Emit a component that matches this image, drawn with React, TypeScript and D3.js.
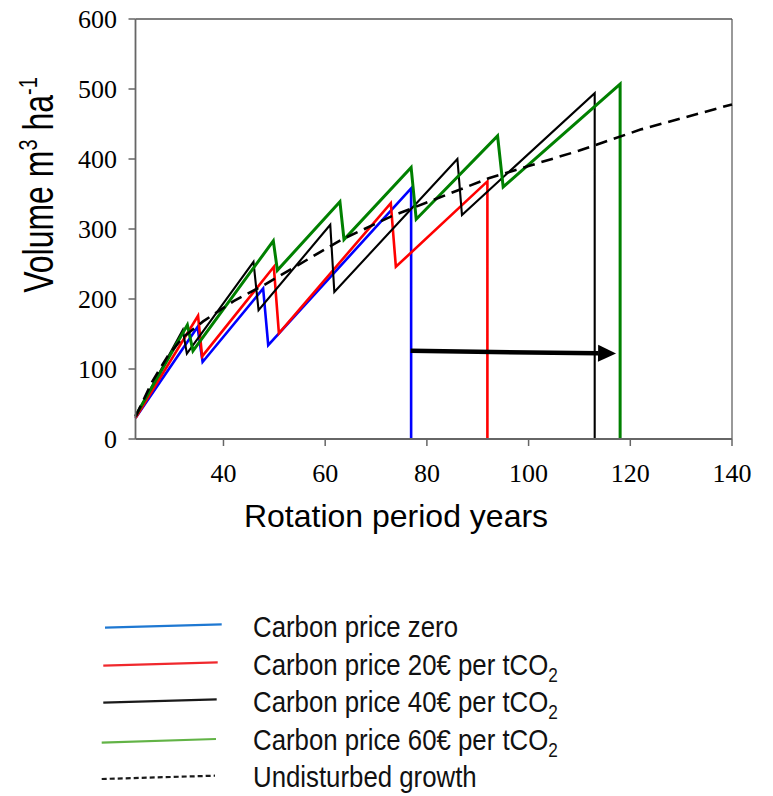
import React from "react";
import * as d3 from "d3";

// ---- data: [rotation year, volume m3/ha] ----
const seriesZero: [number, number][] = [
  [22.7, 30], [34.9, 160], [35.9, 110], [47.8, 215], [48.8, 134], [76.9, 358], [76.9, 0],
];
const series20: [number, number][] = [
  [22.7, 30], [35.0, 176], [35.8, 118], [49.9, 246], [50.9, 151], [72.9, 337], [73.9, 246], [91.9, 368], [91.9, 0],
];
const series40: [number, number][] = [
  [22.7, 32], [32.0, 156], [32.8, 122], [45.9, 253], [46.9, 184], [61.0, 306], [61.8, 210], [86.0, 400], [86.9, 320], [113.0, 494], [113.0, 0],
];
const series60: [number, number][] = [
  [22.7, 33], [32.9, 163], [34.0, 126], [49.8, 283], [50.6, 241], [62.9, 339], [63.7, 285], [76.9, 388], [77.9, 314], [93.9, 433], [95.0, 360], [118.0, 507], [118.0, 0],
];
const undisturbed: [number, number][] = [
  [22.7, 32], [26, 82], [29, 118], [32, 145], [36, 168], [42, 197], [48, 220], [63, 284], [73, 318], [92, 372], [100, 390], [110, 412], [122, 442], [140, 478],
];
const arrowFrom: [number, number] = [76.8, 126];
const arrowTo: [number, number] = [117.2, 122];

const xTicks = [40, 60, 80, 100, 120, 140];
const yTicks = [0, 100, 200, 300, 400, 500, 600];

const legendLabels = [
  { text: "Carbon price zero", sub: "" },
  { text: "Carbon price 20€ per tCO", sub: "2" },
  { text: "Carbon price 40€ per tCO", sub: "2" },
  { text: "Carbon price 60€ per tCO", sub: "2" },
  { text: "Undisturbed growth", sub: "" },
];

export default function App() {
  const x = d3.scaleLinear().domain([22.7, 140]).range([135.5, 732]);
  const y = d3.scaleLinear().domain([0, 600]).range([439, 19]);
  const line = d3.line<[number, number]>().x((d) => x(d[0])).y((d) => y(d[1]));

  const plotSeries = [
    { data: seriesZero, color: "#0000ff", w: 2.6 },
    { data: series20, color: "#ff0000", w: 2.6 },
    { data: series40, color: "#000000", w: 2.1 },
    { data: series60, color: "#008000", w: 3 },
  ];

  const legendStyles = [
    { color: "#1e78d2", dash: "", y1: 627.7, y2: 624.3, x1: 105, x2: 221.7 },
    { color: "#f0282d", dash: "", y1: 665.7, y2: 662.3, x1: 103.3, x2: 217.7 },
    { color: "#1a1a1a", dash: "", y1: 702.7, y2: 699.3, x1: 103.3, x2: 216.7 },
    { color: "#62b346", dash: "", y1: 742.7, y2: 739, x1: 101.7, x2: 216 },
    { color: "#1a1a1a", dash: "5,3", y1: 779, y2: 775.7, x1: 101.7, x2: 215 },
  ];
  const legendBaselines = [637, 675, 712, 750, 787];

  const ax1 = x(arrowFrom[0]);
  const ay1 = y(arrowFrom[1]);
  const ax2 = x(arrowTo[0]);
  const ay2 = y(arrowTo[1]);
  const ang = Math.atan2(ay2 - ay1, ax2 - ax1);
  const headLen = 18;
  const headHalf = 8.5;
  const bx = ax2 - headLen * Math.cos(ang);
  const by = ay2 - headLen * Math.sin(ang);
  const head = [
    [ax2, ay2],
    [bx - headHalf * Math.sin(ang), by + headHalf * Math.cos(ang)],
    [bx + headHalf * Math.sin(ang), by - headHalf * Math.cos(ang)],
  ]
    .map((p) => p.join(","))
    .join(" ");

  return (
    <svg
      width={773}
      height={796}
      style={{ position: "absolute", left: 0, top: 0, background: "#fff" }}
    >
      <rect x={0} y={0} width={773} height={796} fill="#fff" />
      {/* frame top/right */}
      <line x1={x(22.7)} x2={732} y1={19} y2={19} stroke="#000" strokeWidth={1.2} />
      <line x1={732} x2={732} y1={19} y2={439} stroke="#555" strokeWidth={1.2} />

      {/* series */}
      {plotSeries.map((s, i) => (
        <path
          key={i}
          d={line(s.data) || ""}
          fill="none"
          stroke={s.color}
          strokeWidth={s.w}
          strokeLinejoin="miter"
          strokeMiterlimit={4}
        />
      ))}
      <path
        d={line(undisturbed) || ""}
        fill="none"
        stroke="#000"
        strokeWidth={2.6}
        strokeDasharray="12,7"
      />

      {/* arrow */}
      <line x1={ax1} y1={ay1} x2={bx} y2={by} stroke="#000" strokeWidth={4.5} />
      <polygon points={head} fill="#000" />

      {/* axes */}
      <line x1={135.5} x2={135.5} y1={19} y2={439} stroke="#666" strokeWidth={1.8} />
      <line x1={135.5} x2={732} y1={439} y2={439} stroke="#666" strokeWidth={1.8} />
      {yTicks.map((t) => (
        <g key={"y" + t}>
          <line x1={128.5} x2={135.5} y1={y(t)} y2={y(t)} stroke="#666" strokeWidth={1.5} />
          <text
            x={117}
            y={y(t)}
            dy="0.35em"
            textAnchor="end"
            fontFamily="'Liberation Serif', 'Times New Roman', serif"
            fontSize={26}
            fill="#000"
          >
            {t}
          </text>
        </g>
      ))}
      {xTicks.map((t) => (
        <g key={"x" + t}>
          <line x1={x(t)} x2={x(t)} y1={439} y2={446} stroke="#666" strokeWidth={1.5} />
          <text
            x={x(t)}
            y={482}
            textAnchor="middle"
            fontFamily="'Liberation Serif', 'Times New Roman', serif"
            fontSize={26}
            fill="#000"
          >
            {t}
          </text>
        </g>
      ))}

      {/* axis titles */}
      <text
        x={396}
        y={527}
        textAnchor="middle"
        fontFamily="'Liberation Sans', Arial, sans-serif"
        fontSize={32}
        fill="#000"
      >
        Rotation period years
      </text>
      <text
        transform="translate(53,185) rotate(-90) scale(1,1.3)"
        textAnchor="middle"
        fontFamily="'Liberation Sans', Arial, sans-serif"
        fontSize={32}
        fill="#000"
      >
        Volume m
        <tspan fontSize={20} dy={-12}>3</tspan>
        <tspan dy={12}> ha</tspan>
        <tspan fontSize={20} dy={-12}>-1</tspan>
      </text>

      {/* legend */}
      {legendLabels.map((l, i) => {
        const s = legendStyles[i];
        return (
          <g key={"lg" + i}>
            <line
              x1={s.x1}
              x2={s.x2}
              y1={s.y1}
              y2={s.y2}
              stroke={s.color}
              strokeWidth={2.2}
              strokeDasharray={s.dash || undefined}
            />
            <text
              transform={`translate(253,${legendBaselines[i]}) scale(0.86,1)`}
              fontFamily="'Liberation Sans', Arial, sans-serif"
              fontSize={30}
              fill="#111"
            >
              {l.text}
              {l.sub ? (
                <tspan fontSize={20} dy={7}>
                  {l.sub}
                </tspan>
              ) : null}
            </text>
          </g>
        );
      })}
    </svg>
  );
}
